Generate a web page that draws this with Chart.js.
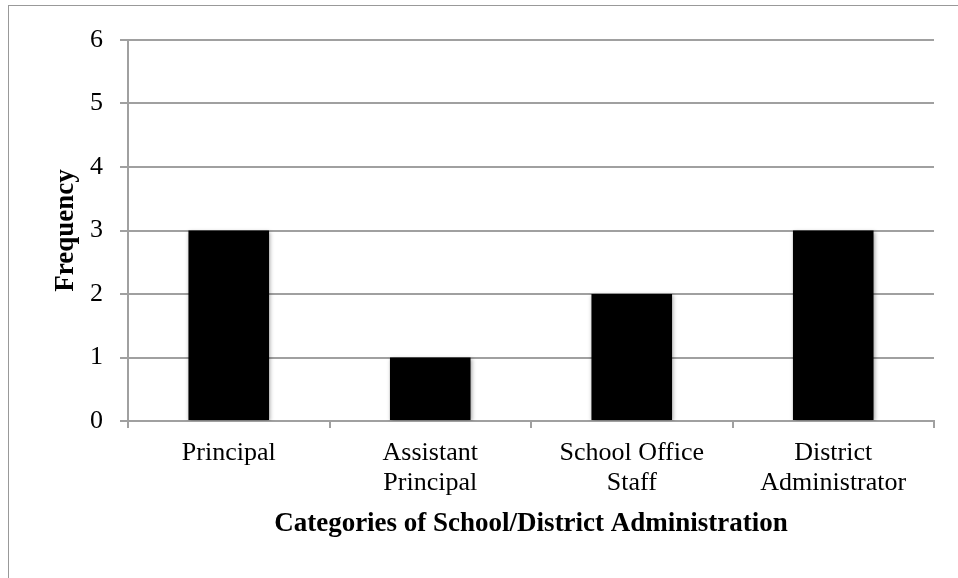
<!DOCTYPE html>
<html lang="en">
<head>
  <meta charset="UTF-8" />
  <title>Categories of School/District Administration</title>
  <script src="https://cdn.jsdelivr.net/npm/chart.js"></script>
  <style>
    body {
      margin: 0;
      background: #fff;
    }
    #frame {
      position: absolute;
      left: 8px;
      top: 5px;
      width: 1000px;
      height: 700px;
      border: 1px solid #999;
    }
    #chart {
      position: absolute;
      left: 0;
      top: 0;
    }
  </style>
</head>
<body>

  <div id="frame"></div>
  <canvas id="chart" width="958" height="578"></canvas>

  <script>
    const categories = [
      ["Principal"],
      ["Assistant", "Principal"],
      ["School Office", "Staff"],
      ["District", "Administrator"]
    ];
    const frequency = [3, 1, 2, 3];
    const yTicks = [0, 1, 2, 3, 4, 5, 6];

    const serif = "'Liberation Serif', 'DejaVu Serif', serif";
    const gridGray = "#a0a0a0";

    // soft drop shadow under the bars, like the office chart
    const barShadow = {
      id: "barShadow",
      beforeDatasetsDraw(chart) {
        const ctx = chart.ctx;
        ctx.save();
        ctx.shadowColor = "rgba(0,0,0,0.35)";
        ctx.shadowBlur = 4;
        ctx.shadowOffsetX = 1;
        ctx.shadowOffsetY = 1;
      },
      afterDatasetsDraw(chart) {
        chart.ctx.restore();
      }
    };

    new Chart(document.getElementById("chart"), {
      type: "bar",
      data: {
        labels: categories,
        datasets: [{
          label: "Frequency",
          data: frequency,
          backgroundColor: "#000",
          borderWidth: 0,
          barPercentage: 0.4,
          categoryPercentage: 1
        }]
      },
      options: {
        responsive: false,
        animation: false,
        plugins: {
          legend: { display: false },
          tooltip: { enabled: false }
        },
        layout: {
          padding: { left: 51, top: 40, right: 24, bottom: 38 }
        },
        scales: {
          x: {
            grid: {
              offset: true,
              drawOnChartArea: false,
              drawTicks: true,
              tickLength: 7,
              color: gridGray,
              lineWidth: 2
            },
            border: { color: gridGray, width: 2 },
            ticks: {
              color: "#000",
              font: { family: serif, size: 26, lineHeight: 1.15 },
              padding: 10,
              maxRotation: 0
            },
            title: {
              display: true,
              text: "Categories of School/District Administration",
              color: "#000",
              font: { family: serif, size: 27, weight: "bold", lineHeight: 1.15 },
              padding: { top: 0, bottom: 0 }
            },
            afterFit: s => { s.height = 578 - 38 - 421; }
          },
          y: {
            min: 0,
            max: 6,
            afterBuildTicks: s => { s.ticks = yTicks.map(v => ({ value: v })); },
            grid: {
              color: gridGray,
              lineWidth: 2,
              tickLength: 8
            },
            border: { color: gridGray, width: 2 },
            ticks: {
              color: "#000",
              font: { family: serif, size: 26 },
              padding: 17
            },
            title: {
              display: true,
              text: "Frequency",
              color: "#000",
              font: { family: serif, size: 27, weight: "bold", lineHeight: 1.15 },
              padding: { top: 0, bottom: 0 }
            },
            afterFit: s => { s.width = 128 - 51; }
          }
        }
      },
      plugins: [barShadow]
    });
  </script>

</body>
</html>
